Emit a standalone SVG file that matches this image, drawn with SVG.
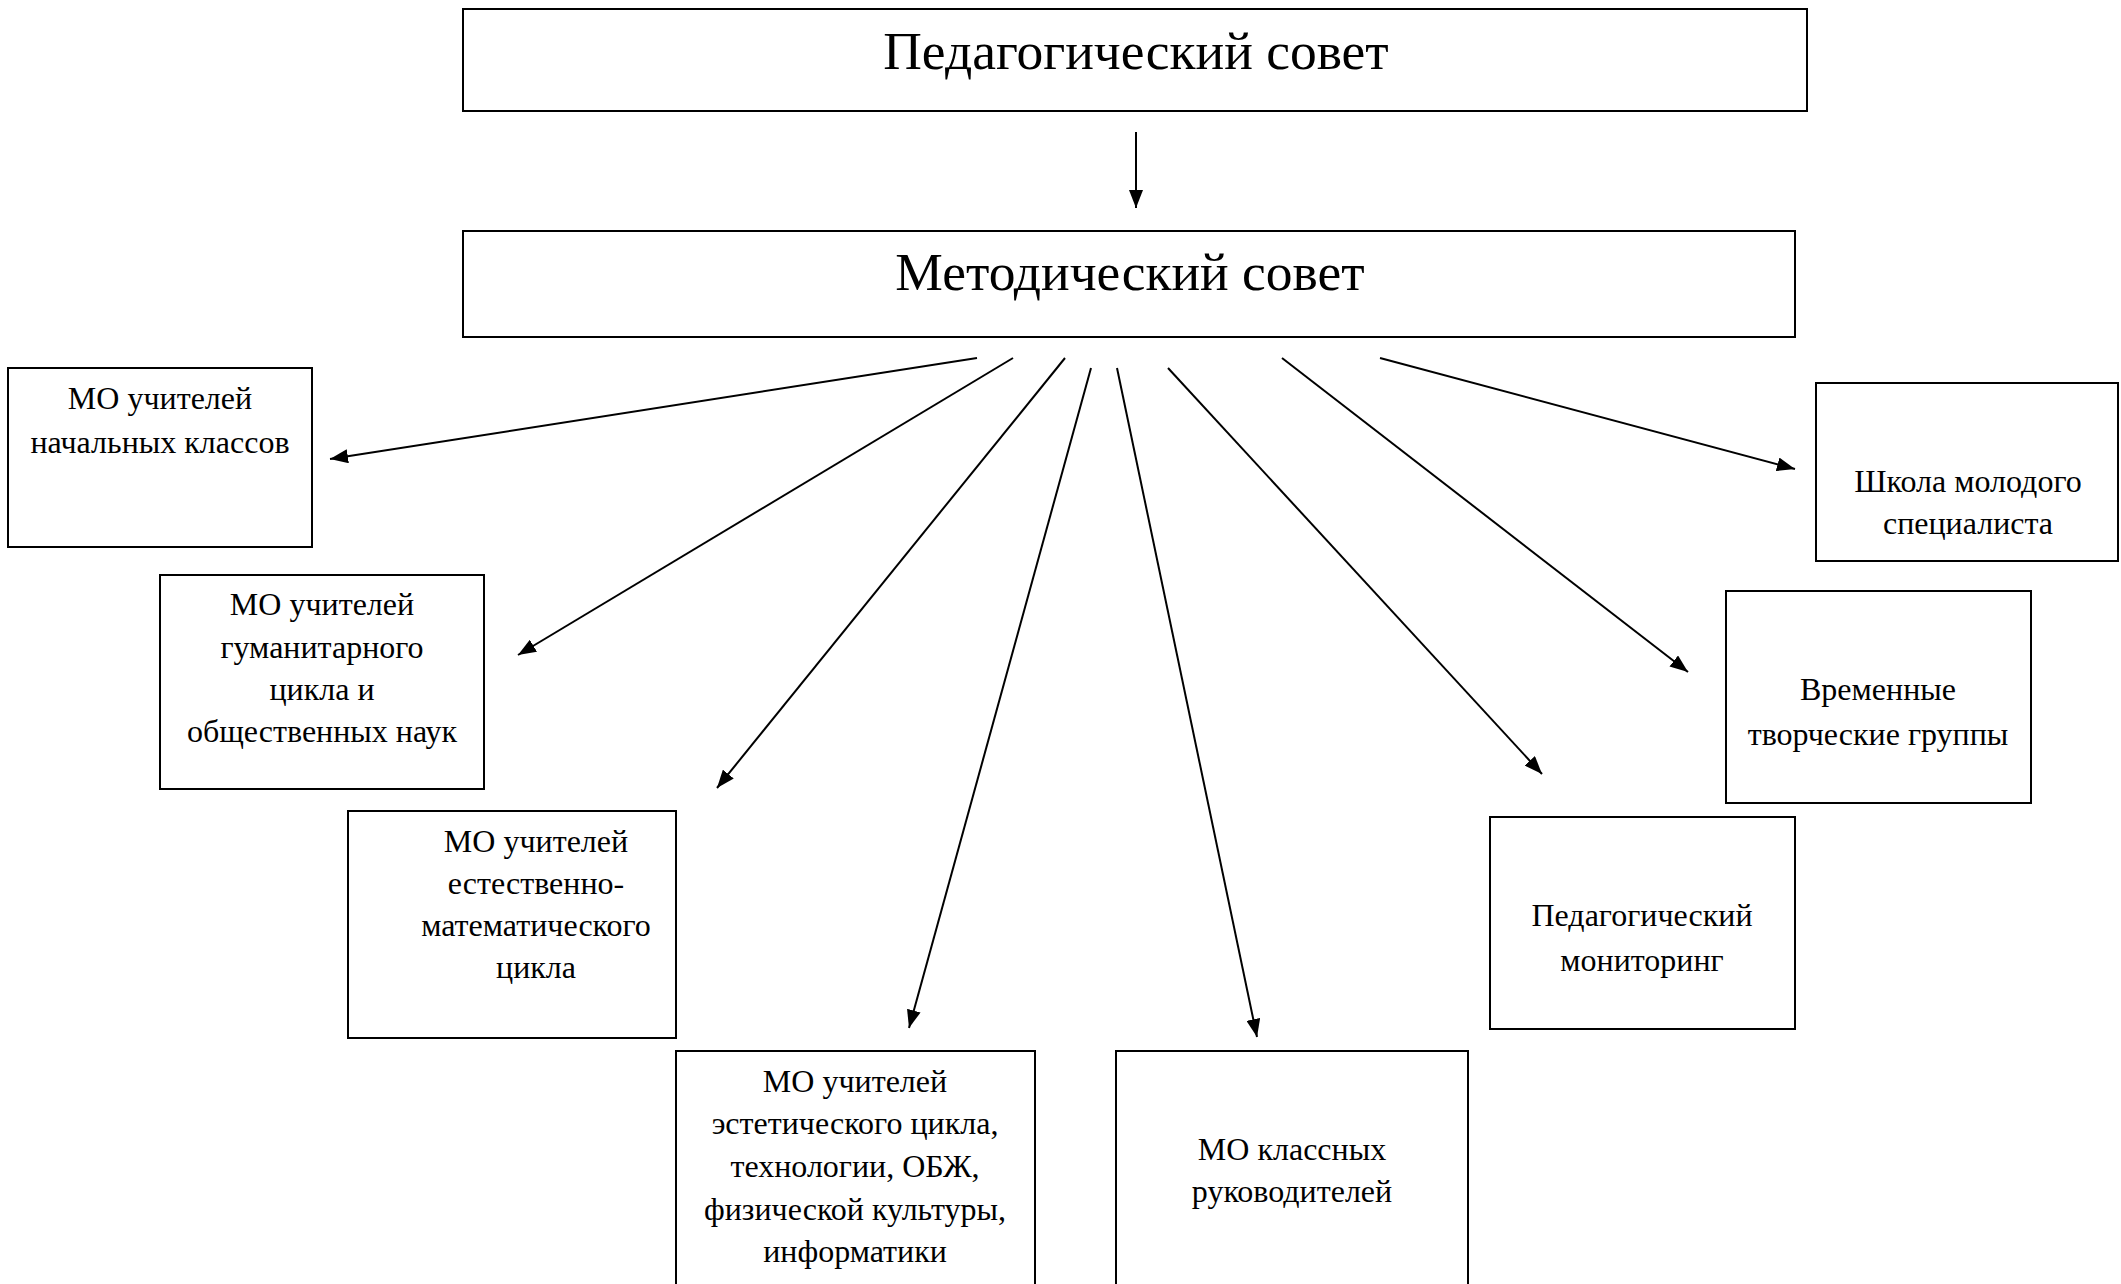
<svg xmlns="http://www.w3.org/2000/svg" width="2121" height="1284" viewBox="0 0 2121 1284">
<style>
.box{fill:#fff;stroke:#000;stroke-width:2}
.t{font-family:"Liberation Serif","Times New Roman",serif;fill:#000;text-anchor:middle}
.big{font-size:53.5px}
.sm{font-size:32px}
.c{stroke:#000;stroke-width:2;fill:none;marker-end:url(#ah)}
</style>
<defs>
<marker id="ah" viewBox="0 0 18 14" refX="18" refY="7" markerWidth="18" markerHeight="14" markerUnits="userSpaceOnUse" orient="auto">
<path d="M0,0 L18,7 L0,14 z" fill="#000"/>
</marker>
</defs>
<rect width="2121" height="1284" fill="#fff"/>
<g id="ped-sovet">
<rect class="box" x="463" y="9" width="1344" height="102"/>
<text class="t big" x="1136" y="69">Педагогический совет</text>
</g>
<g id="met-sovet">
<rect class="box" x="463" y="231" width="1332" height="106"/>
<text class="t big" x="1130" y="290">Методический совет</text>
</g>
<g id="mo-nach">
<rect class="box" x="8" y="368" width="304" height="179"/>
<text class="t sm" x="160"><tspan x="160" y="409">МО учителей</tspan><tspan x="160" y="453">начальных классов</tspan></text>
</g>
<g id="mo-gum">
<rect class="box" x="160" y="575" width="324" height="214"/>
<text class="t sm"><tspan x="322" y="615">МО учителей</tspan><tspan x="322" y="658">гуманитарного</tspan><tspan x="322" y="700">цикла и</tspan><tspan x="322" y="742">общественных наук</tspan></text>
</g>
<g id="mo-est">
<rect class="box" x="348" y="811" width="328" height="227"/>
<text class="t sm"><tspan x="536" y="852">МО учителей</tspan><tspan x="536" y="894">естественно-</tspan><tspan x="536" y="936">математического</tspan><tspan x="536" y="978">цикла</tspan></text>
</g>
<g id="mo-est2">
<rect class="box" x="676" y="1051" width="359" height="260"/>
<text class="t sm"><tspan x="855" y="1092">МО учителей</tspan><tspan x="855" y="1134">эстетического цикла,</tspan><tspan x="855" y="1177">технологии, ОБЖ,</tspan><tspan x="855" y="1220">физической культуры,</tspan><tspan x="855" y="1262">информатики</tspan></text>
</g>
<g id="mo-kl">
<rect class="box" x="1116" y="1051" width="352" height="260"/>
<text class="t sm"><tspan x="1292" y="1160">МО классных</tspan><tspan x="1292" y="1202">руководителей</tspan></text>
</g>
<g id="ped-mon">
<rect class="box" x="1490" y="817" width="305" height="212"/>
<text class="t sm"><tspan x="1642" y="926">Педагогический</tspan><tspan x="1642" y="971">мониторинг</tspan></text>
</g>
<g id="vtg">
<rect class="box" x="1726" y="591" width="305" height="212"/>
<text class="t sm"><tspan x="1878" y="700">Временные</tspan><tspan x="1878" y="745">творческие группы</tspan></text>
</g>
<g id="shms">
<rect class="box" x="1816" y="383" width="302" height="178"/>
<text class="t sm"><tspan x="1968" y="492">Школа молодого</tspan><tspan x="1968" y="534">специалиста</tspan></text>
</g>
<g id="connectors">
<line class="c" x1="1136" y1="132" x2="1136" y2="208"/>
<line class="c" x1="977" y1="358" x2="330" y2="459"/>
<line class="c" x1="1013" y1="358" x2="518" y2="655"/>
<line class="c" x1="1065" y1="358" x2="717" y2="788"/>
<line class="c" x1="1091" y1="368" x2="909" y2="1028"/>
<line class="c" x1="1117" y1="368" x2="1257" y2="1037"/>
<line class="c" x1="1168" y1="368" x2="1542" y2="774"/>
<line class="c" x1="1282" y1="358" x2="1688" y2="672"/>
<line class="c" x1="1380" y1="358" x2="1795" y2="469"/>
</g>
</svg>
